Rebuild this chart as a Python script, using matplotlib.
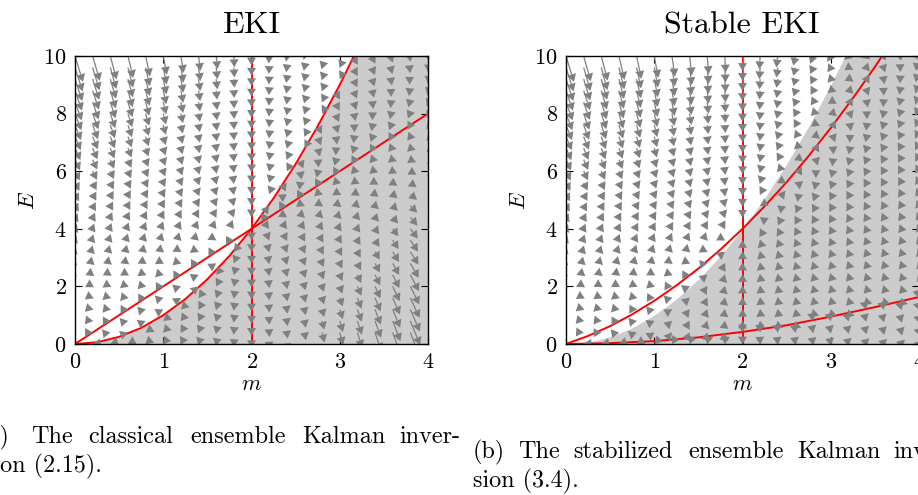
import matplotlib
matplotlib.use("Agg")
import matplotlib.pyplot as plt
import numpy as np
from matplotlib.collections import PolyCollection, LineCollection

plt.rcParams["font.family"] = ["cmr10"]
plt.rcParams["mathtext.fontset"] = "cm"
plt.rcParams["axes.formatter.use_mathtext"] = True

FIG_W, FIG_H = 918, 495

# grid of the direction field
M_GRID = [0.0, 0.2, 0.4, 0.6, 0.8, 1.0, 1.2, 1.4, 1.6, 1.8, 2.0,
          2.2, 2.4, 2.6, 2.8, 3.0, 3.2, 3.4, 3.6, 3.8, 4.0]
E_GRID = [0.0, 0.4, 0.8, 1.2, 1.6, 2.0, 2.4, 2.8, 3.2, 3.6, 4.0, 4.4, 4.8,
          5.2, 5.6, 6.0, 6.4, 6.8, 7.2, 7.6, 8.0, 8.4, 8.8, 9.2, 9.6, 10.0]

M_TICKS = [0, 1, 2, 3, 4]
E_TICKS = [0, 2, 4, 6, 8, 10]

# red curves
# EKI: E = m^2 (also edge of the grey region), E = 2m, m = 2
PARAB_M = [0.0, 0.25, 0.5, 0.75, 1.0, 1.25, 1.5, 1.75, 2.0, 2.25, 2.5, 2.75, 3.0, 3.25, 3.5, 3.75, 4.0]
PARAB_E = [0.0, 0.06, 0.25, 0.56, 1.0, 1.56, 2.25, 3.06, 4.0, 5.06, 6.25, 7.56, 9.0, 10.56, 12.25, 14.06, 16.0]
EKI_LINE_M = [0.0, 4.0]
EKI_LINE_E = [0.0, 8.0]
EQ_M = [2.0, 2.0]
EQ_E = [0.0, 10.0]

# Stable EKI: upper and lower red curve
STAB_UP_M = [0.0, 0.25, 0.5, 0.75, 1.0, 1.25, 1.5, 1.75, 2.0, 2.25, 2.5, 2.75, 3.0, 3.25, 3.5, 3.75, 4.0]
STAB_UP_E = [0.0, 0.28, 0.62, 1.03, 1.5, 2.03, 2.62, 3.28, 4.0, 4.78, 5.62, 6.53, 7.5, 8.53, 9.62, 10.78, 12.0]
STAB_LO_M = [0.0, 0.5, 1.0, 1.5, 2.0, 2.5, 3.0, 3.5, 4.0]
STAB_LO_E = [0.0, 0.03, 0.1, 0.23, 0.42, 0.65, 0.95, 1.28, 1.63]

ARROW_SCALE = 0.0045
HEAD_SIDE = 9.0  # px, near-equilateral heads
GREY = "#808080"
SHADE = "#cccccc"
RED = "#ff0000"


def eki_field(m, E):
    # classical moment system, nullclines E = m^2, E = 2m, m = 2
    V = E - np.interp(m, PARAB_M, PARAB_E)
    L = np.interp(m, EKI_LINE_M, EKI_LINE_E)
    return -V * (m - 2.0), -2.0 * V * (E - L)


def stab_field(m, E):
    # stabilized system, nullclines are the red curves of the right panel
    Z = E - np.interp(m, STAB_LO_M, STAB_LO_E)
    U = np.interp(m, STAB_UP_M, STAB_UP_E)
    return -Z * (m - 2.0), -2.0 * Z * (E - U)


def draw_field(ax, field):
    pos = ax.get_position()
    sx = pos.width * FIG_W / 4.0
    sy = pos.height * FIG_H / 10.0
    mm, ee = np.meshgrid(M_GRID, E_GRID)
    u, v = field(mm, ee)
    dx = ARROW_SCALE * u * sx
    dy = ARROW_SCALE * v * sy
    ln = np.hypot(dx, dy)
    ok = ln > 1e-9
    mm, ee, dx, dy, ln = mm[ok], ee[ok], dx[ok], dy[ok], ln[ok]
    ux, uy = dx / ln, dy / ln
    hl = HEAD_SIDE * 0.866
    hw = HEAD_SIDE / 2
    bx, by = dx - hl * ux, dy - hl * uy
    polys = []
    stems = []
    for i in range(len(mm)):
        pts = [(dx[i], dy[i]),
               (bx[i] - hw * uy[i], by[i] + hw * ux[i]),
               (bx[i] + hw * uy[i], by[i] - hw * ux[i])]
        polys.append([(mm[i] + px / sx, ee[i] + py / sy) for px, py in pts])
        if ln[i] > hl:
            stems.append([(mm[i], ee[i]), (mm[i] + bx[i] / sx, ee[i] + by[i] / sy)])
    ax.add_collection(LineCollection(stems, colors=GREY, linewidths=0.9, zorder=4))
    ax.add_collection(PolyCollection(polys, facecolors=GREY, edgecolors="none", zorder=5))


def style_axes(ax):
    ax.set_xlim(0, 4)
    ax.set_ylim(0, 10)
    ax.set_xticks(M_TICKS)
    ax.set_yticks(E_TICKS)
    ax.tick_params(direction="in", top=True, right=True, length=5, width=0.8,
                   labelsize=16, pad=6)
    for s in ax.spines.values():
        s.set_linewidth(1.0)
        s.set_zorder(10)
    ax.set_xlabel("$m$", fontsize=16, labelpad=2)
    ax.set_ylabel("$E$", fontsize=16, labelpad=4)


fig = plt.figure(figsize=(FIG_W / 100, FIG_H / 100), dpi=100)
ax1 = fig.add_axes([75 / FIG_W, 151 / FIG_H, 353 / FIG_W, 288 / FIG_H])
ax2 = fig.add_axes([566 / FIG_W, 151 / FIG_H, 353 / FIG_W, 288 / FIG_H])

for ax in (ax1, ax2):
    ax.fill_between(PARAB_M, PARAB_E, 0, color=SHADE, lw=0, zorder=1)
    ax.plot(EQ_M, EQ_E, color=RED, lw=1.4, zorder=3)

# EKI
ax1.plot(PARAB_M, PARAB_E, color=RED, lw=1.4, zorder=3)
ax1.plot(EKI_LINE_M, EKI_LINE_E, color=RED, lw=1.4, zorder=3)
draw_field(ax1, eki_field)
style_axes(ax1)

# Stable EKI
ax2.plot(STAB_UP_M, STAB_UP_E, color=RED, lw=1.4, zorder=3)
ax2.plot(STAB_LO_M, STAB_LO_E, color=RED, lw=1.4, zorder=3)
draw_field(ax2, stab_field)
style_axes(ax2)


def ftext(x, y, s, size, **kw):
    fig.text(x / FIG_W, 1 - y / FIG_H, s, fontsize=size, va="baseline", **kw)


ftext(251, 33, "EKI", 23, ha="center")
ftext(742, 33, "Stable EKI", 23, ha="center")

CAP = 17.4
# caption (a), justified by hand
for word, x in [("(a)", -21), ("The", 31), ("classical", 88), ("ensemble", 190),
                ("Kalman", 302), ("inver-", 399)]:
    ftext(x, 443, word, CAP)
ftext(-16, 472, "sion (2.15).", CAP)
# caption (b)
for word, x in [("(b)", 473), ("The", 518), ("stabilized", 573), ("ensemble", 688),
                ("Kalman", 797), ("inver-", 893)]:
    ftext(x, 458, word, CAP)
ftext(473, 487, "sion (3.4).", CAP)

fig.savefig("out.png", dpi=100)
